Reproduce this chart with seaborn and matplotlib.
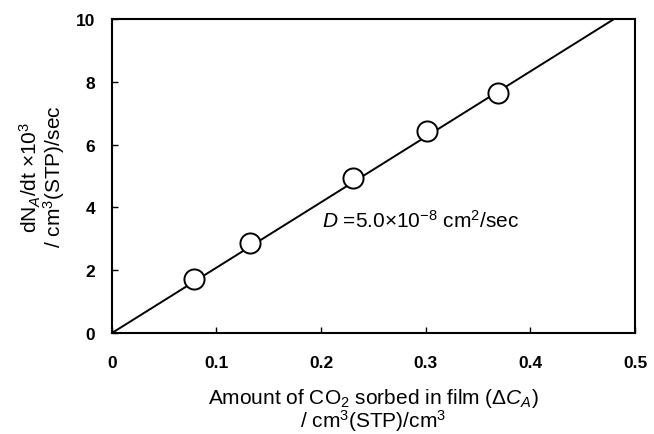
import matplotlib
matplotlib.use("Agg")
import matplotlib.pyplot as plt
import seaborn as sns
import pandas as pd

# data
sorbed = [0.079, 0.132, 0.230, 0.301, 0.369]
rate = [1.73, 2.88, 4.95, 6.42, 7.64]
fit_x = [0.0, 0.48]
fit_y = [0.0, 10.0]
x_ticks = [0, 0.1, 0.2, 0.3, 0.4, 0.5]
x_tick_labels = ["0", "0.1", "0.2", "0.3", "0.4", "0.5"]
y_ticks = [0, 2, 4, 6, 8, 10]

sns.set_theme(style="ticks")
plt.rcParams["font.family"] = ["Liberation Sans", "DejaVu Sans"]
plt.rcParams["mathtext.fontset"] = "custom"
plt.rcParams["mathtext.rm"] = "Liberation Sans"
plt.rcParams["mathtext.it"] = "Liberation Sans:italic"
plt.rcParams["mathtext.bf"] = "Liberation Sans:bold"

fig = plt.figure(figsize=(6.54, 4.35), dpi=100)
ax = fig.add_axes([0.171, 0.232, 0.800, 0.722])

df_pts = pd.DataFrame({"x": sorbed, "y": rate})
df_fit = pd.DataFrame({"x": fit_x, "y": fit_y})

sns.lineplot(data=df_fit, x="x", y="y", ax=ax, color="black", linewidth=1.4, zorder=2)
sns.scatterplot(data=df_pts, x="x", y="y", ax=ax, s=210, facecolor="white",
                edgecolor="black", linewidth=1.4, zorder=3)

ax.set_xlim(0, 0.5)
ax.set_ylim(0, 10)
ax.set_xticks(x_ticks)
ax.set_xticklabels(x_tick_labels)
ax.set_yticks(y_ticks)
for lab in ax.get_xticklabels() + ax.get_yticklabels():
    lab.set_fontweight("bold")
    lab.set_fontsize(12.5)
ax.tick_params(direction="in", length=4, width=1.0, color="black", labelcolor="black")
ax.tick_params(axis="x", pad=16)
ax.tick_params(axis="y", pad=12)
for sp in ax.spines.values():
    sp.set_linewidth(1.5)
    sp.set_color("black")
    sp.set_visible(True)

ax.set_xlabel("Amount of CO$_2$ sorbed in film ($\\mathit{\\Delta C_A}$)\n/ cm$^3$(STP)/cm$^3$",
              fontsize=15, labelpad=11, color="black", linespacing=0.95)
ax.set_ylabel("dN$_A$/dt ×10$^3$\n/ cm$^3$(STP)/sec", fontsize=15, labelpad=6,
              color="black", linespacing=0.95)

ax.text(0.201, 3.6, "$\\mathit{D}$ =5.0×10$^{-8}$ cm$^2$/sec", fontsize=15,
        va="center", ha="left", color="black")

fig.savefig("out.png", dpi=100)
